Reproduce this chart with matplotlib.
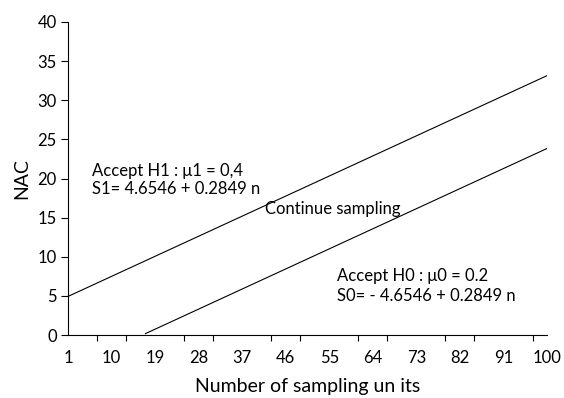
import matplotlib.pyplot as plt
import numpy as np

# boundary lines of the sequential sampling plan (end points)
n_upper = [1, 100]
s1_upper = [4.94, 33.14]
n_lower = [17, 100]
s0_lower = [0.19, 23.84]

x_labels = list(range(1, 101, 9))
x_marks = list(range(1, 100, 6))
y_ticks = list(range(0, 41, 5))

plt.rcParams['font.family'] = ['Lato', 'DejaVu Sans']

fig = plt.figure(figsize=(5.64, 3.98), dpi=100)
ax = fig.add_axes([0.1206, 0.158, 0.8494, 0.787])

ax.plot(n_upper, s1_upper, color="black", linewidth=0.8)
ax.plot(n_lower, s0_lower, color="black", linewidth=0.8)

ax.set_xlim(1, 100)
ax.set_ylim(0, 40)

ax.set_xticks(x_labels)
ax.set_xticks(x_marks, minor=True)
ax.tick_params(axis="x", which="major", length=0, pad=11, labelsize=12)
ax.tick_params(axis="x", which="minor", length=4, direction="out", width=0.8)
ax.set_yticks(y_ticks)
ax.tick_params(axis="y", length=5, width=0.8, labelsize=12, pad=3)

for side in ["top", "right"]:
    ax.spines[side].set_visible(False)
for side in ["left", "bottom"]:
    ax.spines[side].set_linewidth(0.8)

ax.set_xlabel("Number of sampling un its", fontsize=14, labelpad=8)
ax.set_ylabel("NAC", fontsize=14, labelpad=5)

ax.text(6.0, 19.8, "Accept H1 : \u03bc1 = 0,4\nS1= 4.6546 + 0.2849 n",
        fontsize=12, va="center", ha="left", linespacing=1.1)
ax.text(41.7, 16.1, "Continue sampling", fontsize=12, va="center", ha="left")
ax.text(56.6, 6.3, "Accept H0 : \u03bc0 = 0.2\nS0= - 4.6546 + 0.2849 n",
        fontsize=12, va="center", ha="left", linespacing=1.3)

fig.savefig("out.png", dpi=100)
